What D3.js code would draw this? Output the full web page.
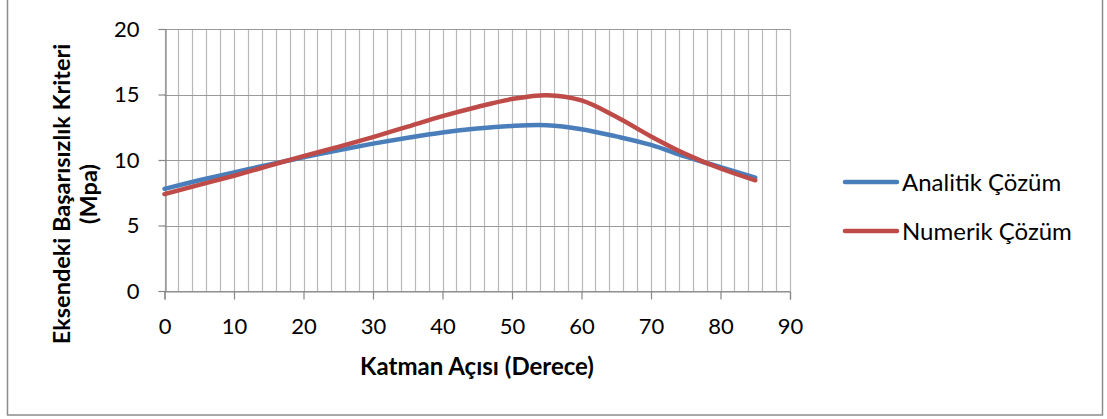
<!DOCTYPE html>
<html><head><meta charset="utf-8">
<script src="https://cdn.jsdelivr.net/npm/d3@7"></script>
<style>body{margin:0;background:#fff}svg{display:block}text{font-family:Lato,sans-serif}</style>
</head><body><svg id="c" width="1107" height="419"></svg>
<script>
const angles = [0,5,10,15,20,25,30,35,40,45,50,55,60,65,70,75,80,85];
const analitik = [7.8,8.45,9.05,9.65,10.2,10.75,11.25,11.7,12.1,12.4,12.6,12.65,12.35,11.8,11.15,10.25,9.45,8.65];
const numerik  = [7.4,8.1,8.8,9.55,10.3,11.0,11.75,12.55,13.35,14.05,14.65,14.95,14.55,13.3,11.8,10.45,9.35,8.45];
const seriesNames = ["Analitik Çözüm","Numerik Çözüm"];
const seriesColors = ["#4a7ebb","#be4b48"];
const xTicks = [0,10,20,30,40,50,60,70,80,90];
const yTicks = [0,5,10,15,20];
const xTitle = "Katman Açısı (Derece)";
const yTitle = ["Eksendeki Başarısızlık Kriteri","(Mpa)"];

const svg = d3.select("#c");
const L=164.5, R=790, T=29, B=291;
const x = d3.scaleLinear().domain([0,90]).range([L,R]);
const y = d3.scaleLinear().domain([0,20]).range([B,T]);

svg.append("rect").attr("x",7.5).attr("y",-2).attr("width",1095).attr("height",417)
  .attr("fill","none").attr("stroke","#8c8c8c").attr("stroke-width",1.5);

const g = svg.append("g");
g.selectAll(".vg").data(d3.range(0,91,2)).join("line")
  .attr("x1",d=>Math.round(x(d))+0.5).attr("x2",d=>Math.round(x(d))+0.5)
  .attr("y1",T).attr("y2",B).attr("stroke","#b8b8b8").attr("stroke-width",1.2);
g.selectAll(".hg").data(yTicks).join("line")
  .attr("x1",L).attr("x2",R).attr("y1",d=>Math.round(y(d))+0.5).attr("y2",d=>Math.round(y(d))+0.5)
  .attr("stroke","#9a9a9a").attr("stroke-width",1.2);

const yAxis = svg.append("g").attr("transform",`translate(${Math.round(L)+0.5},0)`)
  .call(d3.axisLeft(y).tickValues(yTicks).tickSize(7).tickPadding(19));
const xAxis = svg.append("g").attr("transform",`translate(0,${Math.round(B)+0.5})`)
  .call(d3.axisBottom(x).tickValues(xTicks).tickSize(8).tickPadding(19));
[yAxis,xAxis].forEach(a=>{
  a.attr("font-family","Lato").attr("font-size",22);
  a.selectAll("path").attr("stroke","#888").attr("stroke-width",1.2);
  a.selectAll("line").attr("stroke","#888").attr("stroke-width",1.2);
  a.selectAll("text").attr("fill","#000");
});

const line = d3.line().x((d,i)=>x(angles[i])).y(d=>y(d)).curve(d3.curveCatmullRom.alpha(0.5));
[analitik,numerik].forEach((s,k)=>{
  svg.append("path").datum(s).attr("d",line).attr("fill","none")
    .attr("stroke",seriesColors[k]).attr("stroke-width",4.5).attr("stroke-linecap","round");
});

svg.append("text").attr("x",477).attr("y",375).attr("text-anchor","middle")
  .attr("font-size",24).attr("font-weight","bold").text(xTitle);
yTitle.forEach((t,i)=>{
  svg.append("text").attr("transform",`translate(${[70,97][i]},194) rotate(-90)`)
    .attr("text-anchor","middle").attr("font-size",23.5).attr("font-weight","bold").text(t);
});

seriesNames.forEach((n,k)=>{
  const ly = [182,231][k];
  svg.append("line").attr("x1",845).attr("x2",897).attr("y1",ly).attr("y2",ly)
    .attr("stroke",seriesColors[k]).attr("stroke-width",4.5).attr("stroke-linecap","round");
  svg.append("text").attr("x",902).attr("y",ly+9).attr("font-size",24).text(n);
});
</script></body></html>
